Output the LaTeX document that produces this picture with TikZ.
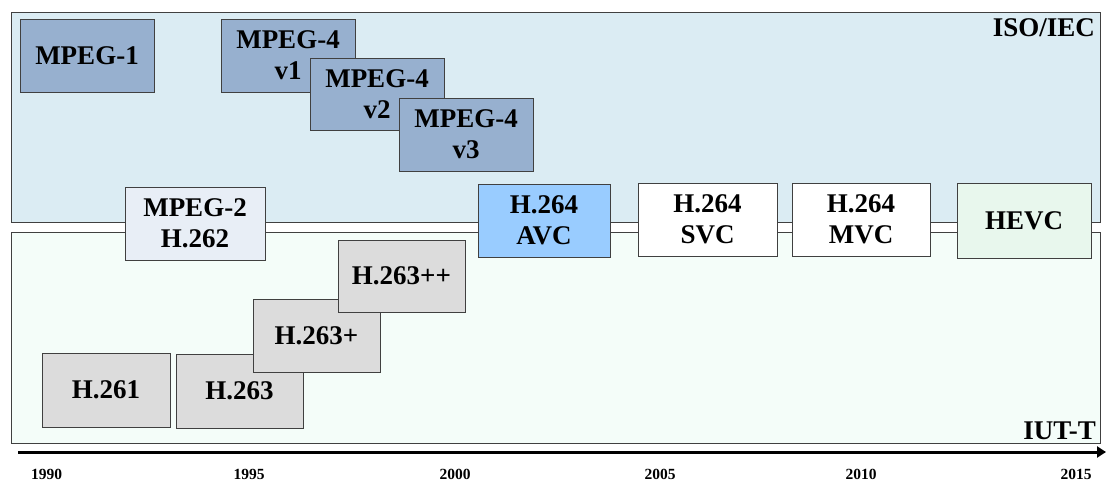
\documentclass[tikz,border=0pt]{standalone}
\usepackage{fontspec}
\setmainfont{Liberation Serif}
\usetikzlibrary{arrows.meta}
\definecolor{isofill}{RGB}{219,236,243}
\definecolor{itufill}{RGB}{244,253,249}
\definecolor{mpegfill}{RGB}{151,176,207}
\definecolor{m2fill}{RGB}{232,238,246}
\definecolor{avcfill}{RGB}{153,204,255}
\definecolor{hevcfill}{RGB}{232,247,237}
\definecolor{hfill}{RGB}{220,220,220}
\definecolor{edge}{RGB}{64,64,64}
\tikzset{
  region/.style={draw=edge, line width=1pt, inner sep=0pt},
  stdbox/.style={draw=edge, line width=1pt, inner sep=0pt, align=center,
    font=\fontsize{27}{31}\selectfont\bfseries, text=black},
  lbl/.style={inner sep=0pt, font=\fontsize{27}{31}\selectfont\bfseries},
  year/.style={inner sep=0pt, font=\fontsize{15.5}{17}\selectfont\bfseries}
}
\begin{document}
\begin{tikzpicture}[x=1pt,y=-1pt]
\useasboundingbox (0,0) rectangle (1106,482);
% regions
\node[region, fill=isofill, minimum width=1089pt, minimum height=210pt] (iso) at (555.5,117) {};
\node[region, fill=itufill, minimum width=1089pt, minimum height=211pt] (itu) at (555.5,337.5) {};
\node[lbl, anchor=north east] (isolbl) at (1095,18) {ISO/IEC};
\node[lbl, anchor=south east] (itulbl) at (1096,440) {IUT-T};
% ISO/IEC boxes
\node[stdbox, fill=mpegfill, minimum width=134pt, minimum height=73pt] (mpeg1) at (87,55.5) {MPEG-1};
\node[stdbox, fill=mpegfill, minimum width=134pt, minimum height=73pt] (mp4a) at (288,55.5) {MPEG-4\\v1};
\node[stdbox, fill=mpegfill, minimum width=134pt, minimum height=72pt] (mp4b) at (377,94) {MPEG-4\\v2};
\node[stdbox, fill=mpegfill, minimum width=134pt, minimum height=73pt] (mp4c) at (466,134.5) {MPEG-4\\v3};
% joint boxes
\node[stdbox, fill=m2fill, minimum width=140pt, minimum height=73pt] (mpeg2) at (195,223.5) {MPEG-2\\H.262};
\node[stdbox, fill=avcfill, minimum width=132pt, minimum height=73pt] (avc) at (544,220.5) {H.264\\AVC};
\node[stdbox, fill=white, minimum width=139pt, minimum height=73pt] (svc) at (707.5,219.5) {H.264\\SVC};
\node[stdbox, fill=white, minimum width=138pt, minimum height=73pt] (mvc) at (861,219.5) {H.264\\MVC};
\node[stdbox, fill=hevcfill, minimum width=134pt, minimum height=75pt] (hevc) at (1024,220.5) {HEVC};
% ITU-T boxes
\node[stdbox, fill=hfill, minimum width=128pt, minimum height=74pt] (h261) at (106,390) {H.261};
\node[stdbox, fill=hfill, minimum width=127pt, minimum height=74pt] (h263) at (239.5,391) {H.263};
\node[stdbox, fill=hfill, minimum width=127pt, minimum height=73pt] (h263p) at (316.5,335.5) {H.263+};
\node[stdbox, fill=hfill, minimum width=127pt, minimum height=72pt] (h263pp) at (401.5,276) {H.263++};
% time axis
\coordinate (axs) at (18,452);
\coordinate (axe) at (1106,452);
\draw[line width=3pt, -{Triangle[length=9pt,width=11pt]}] (axs) -- (axe);
\node[year] (y1990) at (46.5,474.5) {1990};
\node[year] (y1995) at (249,474.5) {1995};
\node[year] (y2000) at (455,474.5) {2000};
\node[year] (y2005) at (660,474.5) {2005};
\node[year] (y2010) at (861,474.5) {2010};
\node[year] (y2015) at (1076,474.5) {2015};
\end{tikzpicture}
\end{document}
